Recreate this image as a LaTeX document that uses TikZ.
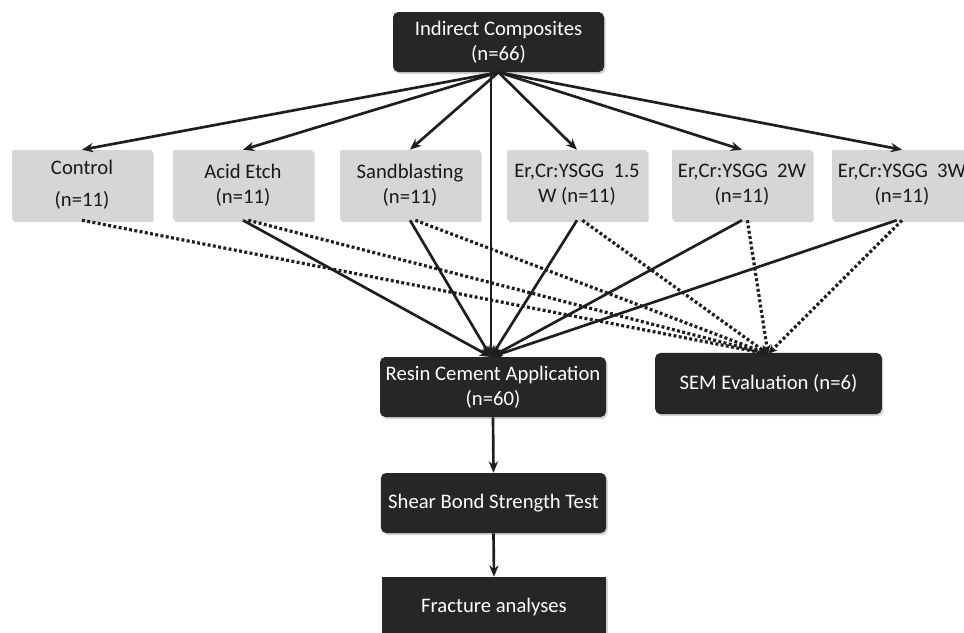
\documentclass[tikz,border=0pt]{standalone}
\usepackage{fontspec}
\setmainfont{Carlito}
\usetikzlibrary{arrows.meta,shadows}
\definecolor{cDark}{HTML}{262626}
\definecolor{cGray}{HTML}{D6D6D6}
\definecolor{cLine}{HTML}{1E1E1E}
\begin{document}
\begin{tikzpicture}[x=0.75pt,y=-0.75pt,
  base/.style={draw=none, align=center, inner sep=0pt,
    font=\fontsize{15.5}{19}\selectfont,
    drop shadow={opacity=0.35,shadow xshift=1.2pt,shadow yshift=-1.5pt}},
  darkbox/.style={base, fill=cDark, text=white, rounded corners=4pt},
  graybox/.style={base, fill=cGray, text=black!90, rounded corners=1.5pt,
    minimum width=105pt, minimum height=52.5pt},
  conn/.style={draw=cLine, line width=2pt},
  arr/.style={conn, -{Stealth[length=8.5pt,width=7pt]}},
  dotline/.style={draw=cLine, line width=2.4pt, dash pattern=on 2.2pt off 1.8pt,
    -{Stealth[length=7pt,width=6pt]}},
]
\useasboundingbox (0,0) rectangle (964,632);
\clip (0,0) rectangle (964,632);

\node[darkbox, minimum width=158.25pt, minimum height=45pt] (top) at (498.5,42) {Indirect Composites\\(n=66)};

\node[graybox] (g1) at (82,185) {Control\\[5pt](n=11)};
\node[graybox] (g2) at (243,185) {Acid Etch\\(n=11)};
\node[graybox] (g3) at (410,185) {Sandblasting\\(n=11)};
\node[graybox] (g4) at (577,185) {Er,Cr:YSGG\ \ 1.5\\W (n=11)};
\node[graybox] (g5) at (742,185) {Er,Cr:YSGG\ \ 2W\\(n=11)};
\node[graybox] (g6) at (902,185) {Er,Cr:YSGG\ \ 3W\\(n=11)};

\node[darkbox, minimum width=169.5pt, minimum height=45pt] (resin) at (493,387) {Resin Cement Application\\(n=60)};
\node[darkbox, minimum width=170pt, minimum height=46pt] (sem) at (768.5,383.5) {SEM Evaluation (n=6)};
\node[darkbox, minimum width=169pt, minimum height=45pt] (shear) at (493.5,503) {Shear Bond Strength Test};
\node[darkbox, rounded corners=0pt, minimum width=168pt, minimum height=45pt] (frac) at (494,607) {Fracture analyses};

\coordinate (R) at (491,357);
\coordinate (S) at (768,354);

% from top
\foreach \g in {g1,g2,g3,g4,g5,g6} {\draw[arr] (top.south) -- (\g.north);}
\draw[arr] (top.south -| R) -- (R);

% dotted to SEM
\draw[dotline] (g1.south) -- (S);
\foreach \g in {g2,g3,g4,g5} {\draw[dotline] ([xshift=4pt]\g.south) -- (S);}
\draw[dotline] (g6.south) -- (S);

% solid to resin
\foreach \g in {g2,g3,g4,g5} {\draw[arr] (\g.south) -- (R);}
\draw[arr] ([xshift=-4pt]g6.south) -- (R);

\draw[arr] (resin.south) -- (shear.north);
\draw[arr] (shear.south) -- (frac.north);
\end{tikzpicture}
\end{document}
